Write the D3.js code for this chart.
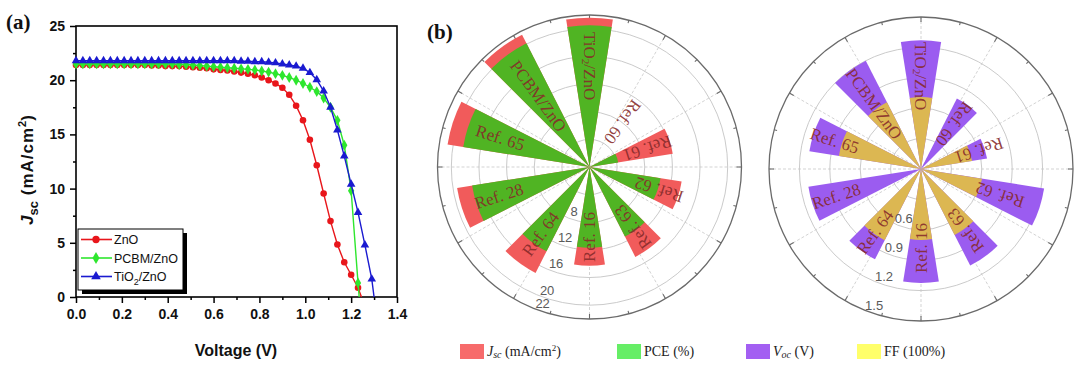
<!DOCTYPE html>
<html>
<head>
<meta charset="utf-8">
<title>J-V curves and radar comparison</title>
<script src="https://d3js.org/d3.v7.min.js"></script>
<style>
  body { margin: 0; background: #fff; }
  svg { display: block; }
</style>
</head>
<body>
<svg width="1080" height="370"></svg>
<script>
// ---- panel (a) data : J-V curves ----
var voltage = [0.00,0.03,0.06,0.09,0.12,0.15,0.18,0.21,0.24,0.27,0.30,0.33,0.36,0.39,0.42,0.45,
  0.48,0.51,0.54,0.57,0.60,0.63,0.66,0.69,0.72,0.75,0.78,0.81,0.84,0.87,0.90,0.93,0.96,0.99,
  1.02,1.05,1.08,1.11,1.14,1.17,1.20,1.23,1.26,1.29]
var jZnO = [21.4,21.4,21.4,21.4,21.4,21.4,21.4,21.4,21.4,21.4,21.4,21.35,21.35,21.3,21.3,21.3,
  21.25,21.2,21.15,21.1,21.0,20.95,20.9,20.8,20.7,20.6,20.45,20.25,20.0,19.7,19.3,18.65,17.65,16.3,
  14.5,12.15,9.55,7.0,4.85,3.2,2.05,0.85]
var jPCBM = [21.5,21.5,21.5,21.5,21.5,21.5,21.5,21.5,21.5,21.5,21.5,21.5,21.5,21.5,21.5,21.45,
  21.45,21.4,21.35,21.3,21.25,21.2,21.15,21.1,21.05,21.0,20.95,20.85,20.75,20.6,20.45,20.25,20.0,19.7,
  19.35,18.95,18.35,17.5,16.3,14.0,9.8,1.3]
var jTiO2 = [21.8,21.8,21.8,21.8,21.8,21.8,21.8,21.8,21.8,21.8,21.8,21.8,21.8,21.8,21.8,21.8,
  21.8,21.8,21.8,21.8,21.8,21.8,21.8,21.8,21.75,21.75,21.7,21.7,21.65,21.6,21.5,21.4,21.3,21.1,
  20.7,20.05,19.0,17.5,15.4,13.0,10.4,7.8,4.8,1.65]
var vocEnd = [1.245, 1.235, 1.30]
var seriesNames = ["ZnO", "PCBM/ZnO", "TiO2/ZnO"]
var xTicks = [0, 0.2, 0.4, 0.6, 0.8, 1.0, 1.2, 1.4]
var yTicks = [0, 5, 10, 15, 20, 25]

// ---- panel (b) data : radar bars ----
var categories = ["TiO2/ZnO", "Ref. 60", "Ref. 61", "Ref. 62", "Ref. 63", "Ref. 16", "Ref. 64", "Ref. 28", "Ref. 65", "PCBM/ZnO"]
var jsc = [21.6, null, 12.2, 13.5, 14.6, 14.3, 17.2, 19.4, 20.8, 21.5]
var pce = [20.5, null, 4.2, 10.4, 11.3, 11.7, 13.7, 17.2, 18.5, 20.1]
var voc = [1.27, 0.78, 0.66, 1.23, 1.07, 1.125, 1.0, 1.125, 1.115, 1.20]
var ff = [0.71, null, 0.51, 0.61, 0.73, 0.70, 0.79, null, 0.82, 0.74]
var leftGrid = [4, 8, 12, 16, 20]
var leftTickLabels = [8, 12, 16, 20, 22]
var rightGrid = [0.3, 0.6, 0.9, 1.2]
var rightTickLabels = [0.6, 0.9, 1.2, 1.5]
var legendLabels = ["Jsc", "PCE (%)", "Voc", "FF (100%)"]

var SANS = "'Liberation Sans', Arial, sans-serif"
var SERIF = "'Liberation Serif', 'Times New Roman', serif"

var svg = d3.select("svg")

// ================= panel (a) =================
var x = d3.scaleLinear().domain([0, 1.4]).range([76, 397])
var y = d3.scaleLinear().domain([0, 25]).range([297, 26])

var colors = ["#e8161b", "#2ee62e", "#1a1ad0"]
var symbols = [d3.symbolCircle, d3.symbolDiamond, d3.symbolTriangle]
var symSizes = [34, 34, 32]
var curves = [jZnO, jPCBM, jTiO2]

var gA = svg.append("g")

// minor ticks
gA.append("g").attr("transform", "translate(0,297)")
  .call(d3.axisBottom(x).tickValues([0.1, 0.3, 0.5, 0.7, 0.9, 1.1, 1.3]).tickSize(3).tickFormat(""))
gA.append("g").attr("transform", "translate(76,0)")
  .call(d3.axisLeft(y).tickValues([2.5, 7.5, 12.5, 17.5, 22.5]).tickSize(3).tickFormat(""))

var xAxis = gA.append("g").attr("transform", "translate(0,297)")
  .call(d3.axisBottom(x).tickValues(xTicks).tickSize(6).tickPadding(6).tickFormat(d3.format(".1f")))
var yAxis = gA.append("g").attr("transform", "translate(76,0)")
  .call(d3.axisLeft(y).tickValues(yTicks).tickSize(6).tickPadding(5).tickFormat(d3.format("d")))

gA.selectAll(".domain").remove()
gA.selectAll(".tick line").attr("stroke", "#000").attr("stroke-width", 1.5)
gA.selectAll(".tick text").attr("font-family", SANS).attr("font-size", 14)
  .attr("font-weight", "bold").attr("fill", "#111")

gA.append("rect").attr("x", 76).attr("y", 26).attr("width", 321).attr("height", 271)
  .attr("fill", "none").attr("stroke", "#000").attr("stroke-width", 1.6)

// curves
curves.forEach(function (js, k) {
  var pts = js.map(function (j, i) { return [voltage[i], j] })
  var linePts = pts.concat([[vocEnd[k], 0]])
  gA.append("path")
    .attr("d", d3.line().x(function (d) { return x(d[0]) }).y(function (d) { return y(d[1]) })(linePts))
    .attr("fill", "none").attr("stroke", colors[k]).attr("stroke-width", 1.4)
  gA.append("g").selectAll("path")
    .data(pts)
    .enter().append("path")
      .attr("d", d3.symbol().type(symbols[k]).size(symSizes[k]))
      .attr("transform", function (d) { return "translate(" + x(d[0]) + "," + y(d[1]) + ")" })
      .attr("fill", colors[k])
})

// legend box
var lg = gA.append("g")
lg.append("rect").attr("x", 82).attr("y", 233).attr("width", 105).attr("height", 61).attr("fill", "#000")
lg.append("rect").attr("x", 78).attr("y", 229).attr("width", 105).attr("height", 61)
  .attr("fill", "#fff").attr("stroke", "#000").attr("stroke-width", 1)
var rowsY = [239.5, 258, 276.5]
seriesNames.forEach(function (name, k) {
  lg.append("line").attr("x1", 81).attr("x2", 112).attr("y1", rowsY[k]).attr("y2", rowsY[k])
    .attr("stroke", colors[k]).attr("stroke-width", 1.6)
  lg.append("path").attr("d", d3.symbol().type(symbols[k]).size(symSizes[k] + 8))
    .attr("transform", "translate(96," + rowsY[k] + ")").attr("fill", colors[k])
  var t = lg.append("text").attr("x", 114).attr("y", rowsY[k] + 4.5)
    .attr("font-family", SANS).attr("font-size", 12.5).attr("fill", "#111")
  if (name.indexOf("TiO2") === 0) {
    t.append("tspan").text("TiO")
    t.append("tspan").attr("dy", 4).attr("font-size", 9).text("2")
    t.append("tspan").attr("dy", -4).text("/ZnO")
  } else {
    t.text(name)
  }
})

// axis titles
gA.append("text").attr("x", 236).attr("y", 356).attr("text-anchor", "middle")
  .attr("font-family", SANS).attr("font-size", 16).attr("font-weight", "bold").attr("fill", "#111")
  .text("Voltage (V)")

var yl = gA.append("text").attr("transform", "translate(33,170) rotate(-90)")
  .attr("text-anchor", "middle").attr("font-family", SANS).attr("font-size", 17)
  .attr("font-weight", "bold").attr("fill", "#111")
yl.append("tspan").attr("font-style", "italic").text("J")
yl.append("tspan").attr("dy", 5).attr("font-size", 13).text("sc")
yl.append("tspan").attr("dy", -5).attr("letter-spacing", 1).text(" (mA/cm")
yl.append("tspan").attr("dy", -7).attr("font-size", 11).text("2")
yl.append("tspan").attr("dy", 7).text(")")

svg.append("text").attr("x", 6).attr("y", 29).attr("font-family", SERIF)
  .attr("font-size", 21).attr("font-weight", "bold").attr("fill", "#111").text("(a)")
svg.append("text").attr("x", 427).attr("y", 39).attr("font-family", SERIF)
  .attr("font-size", 21).attr("font-weight", "bold").attr("fill", "#111").text("(b)")

// ================= panel (b) =================
var angle = d3.scaleBand().domain(categories)
  .range([-Math.PI / 10, 2 * Math.PI - Math.PI / 10])
  .paddingInner(0.5).paddingOuter(0.25)

function polarPt(cx, cy, r, a) {
  return [cx + r * Math.sin(a), cy - r * Math.cos(a)]
}

function drawPolar(cfg) {
  var g = svg.append("g")
  var R = cfg.r.range()[1]
  var cx = cfg.cx, cy = cfg.cy

  // grid circles
  g.selectAll("circle.grid").data(cfg.grid).enter().append("circle")
    .attr("cx", cx).attr("cy", cy).attr("r", function (d) { return cfg.r(d) })
    .attr("fill", "none").attr("stroke", "#c4c4c4").attr("stroke-width", 0.9)
  // radial dashed lines
  d3.range(0, 360, 30).forEach(function (deg) {
    var p = polarPt(cx, cy, R, deg * Math.PI / 180)
    g.append("line").attr("x1", cx).attr("y1", cy).attr("x2", p[0]).attr("y2", p[1])
      .attr("stroke", "#c8c8c8").attr("stroke-width", 0.8).attr("stroke-dasharray", "3,2")
  })
  // outer ring + ticks
  g.append("circle").attr("cx", cx).attr("cy", cy).attr("r", R)
    .attr("fill", "none").attr("stroke", "#6a6a6a").attr("stroke-width", 1.3)
  d3.range(0, 360, 15).forEach(function (deg) {
    var a = deg * Math.PI / 180
    var len = deg % 30 === 0 ? 5 : 3
    var p1 = polarPt(cx, cy, R, a), p2 = polarPt(cx, cy, R - len, a)
    g.append("line").attr("x1", p1[0]).attr("y1", p1[1]).attr("x2", p2[0]).attr("y2", p2[1])
      .attr("stroke", "#6a6a6a").attr("stroke-width", 1.1)
  })

  var arc = d3.arc()
  function wedges(vals, color) {
    g.append("g").selectAll("path")
      .data(categories.map(function (c, i) { return { c: c, v: vals[i] } }).filter(function (d) { return d.v != null }))
      .enter().append("path")
        .attr("transform", "translate(" + cx + "," + cy + ")")
        .attr("d", function (d) {
          return arc({ innerRadius: 0, outerRadius: cfg.r(d.v),
            startAngle: angle(d.c), endAngle: angle(d.c) + angle.bandwidth() })
        })
        .attr("fill", color)
  }
  wedges(cfg.outer, cfg.outerColor)
  wedges(cfg.inner, cfg.innerColor)

  // category labels, reading from the rim toward the centre
  categories.forEach(function (c, i) {
    var deg = (angle(c) + angle.bandwidth() / 2) * 180 / Math.PI
    var t = g.append("text")
      .attr("transform", "translate(" + cx + "," + cy + ") rotate(" + (deg - 90) + ") translate(" +
        cfg.starts[i] + ",0) rotate(180)")
      .attr("dominant-baseline", "central")
      .attr("font-family", SERIF).attr("font-size", 17).attr("fill", "#862a2a")
      .attr("fill-opacity", 0.9)
    if (c.indexOf("TiO2") === 0) {
      t.append("tspan").text("TiO")
      t.append("tspan").attr("dy", 4).attr("font-size", 11).text("2")
      t.append("tspan").attr("dy", -4).text("/ZnO")
    } else {
      t.text(c)
    }
  })

  // radial value labels
  var la = 199 * Math.PI / 180
  cfg.tickLabels.forEach(function (v) {
    var p = polarPt(cx, cy, cfg.r(v) - 8, la)
    g.append("text").attr("x", p[0]).attr("y", p[1])
      .attr("text-anchor", "middle").attr("dominant-baseline", "central")
      .attr("font-family", SANS).attr("font-size", 13).attr("fill", "#5a5a5a").text(v)
  })
}

drawPolar({
  cx: 589.5, cy: 167,
  r: d3.scaleLinear().domain([0, 22]).range([0, 152]),
  outer: jsc, inner: pce, outerColor: "#f15b5b", innerColor: "#50b423",
  grid: leftGrid, tickLabels: leftTickLabels,
  starts: [135, 81, 86, 98, 99, 95, 108, 120, 119, 129]
})
drawPolar({
  cx: 921, cy: 169,
  r: d3.scaleLinear().domain([0, 1.5]).range([0, 152]),
  outer: voc, inner: ff, outerColor: "#9b5cf0", innerColor: "#dcb752",
  grid: rightGrid, tickLabels: rightTickLabels,
  starts: [127, 81, 86, 108, 101, 104, 103, 114, 116, 122]
})

// bottom legend
var legColors = ["#f76b6b", "#66ee66", "#a35ff2", "#ffff6a"]
var legX = [460, 617, 746, 857]
var lb = svg.append("g")
legendLabels.forEach(function (lab, i) {
  lb.append("rect").attr("x", legX[i]).attr("y", 344).attr("width", 24).attr("height", 15)
    .attr("fill", legColors[i])
  var t = lb.append("text").attr("x", legX[i] + 27).attr("y", 356)
    .attr("font-family", SERIF).attr("font-size", 14).attr("fill", "#222")
  if (lab === "Jsc" || lab === "Voc") {
    t.append("tspan").attr("font-style", "italic").text(lab.charAt(0))
    t.append("tspan").attr("font-style", "italic").attr("font-size", 10).attr("dy", 2).text(lab.slice(1))
    if (lab === "Jsc") {
      t.append("tspan").attr("dy", -2).text(" (mA/cm")
      t.append("tspan").attr("dy", -5).attr("font-size", 9).text("2")
      t.append("tspan").attr("dy", 5).text(")")
    } else {
      t.append("tspan").attr("dy", -2).text(" (V)")
    }
  } else {
    t.text(lab)
  }
})
</script>
</body>
</html>
